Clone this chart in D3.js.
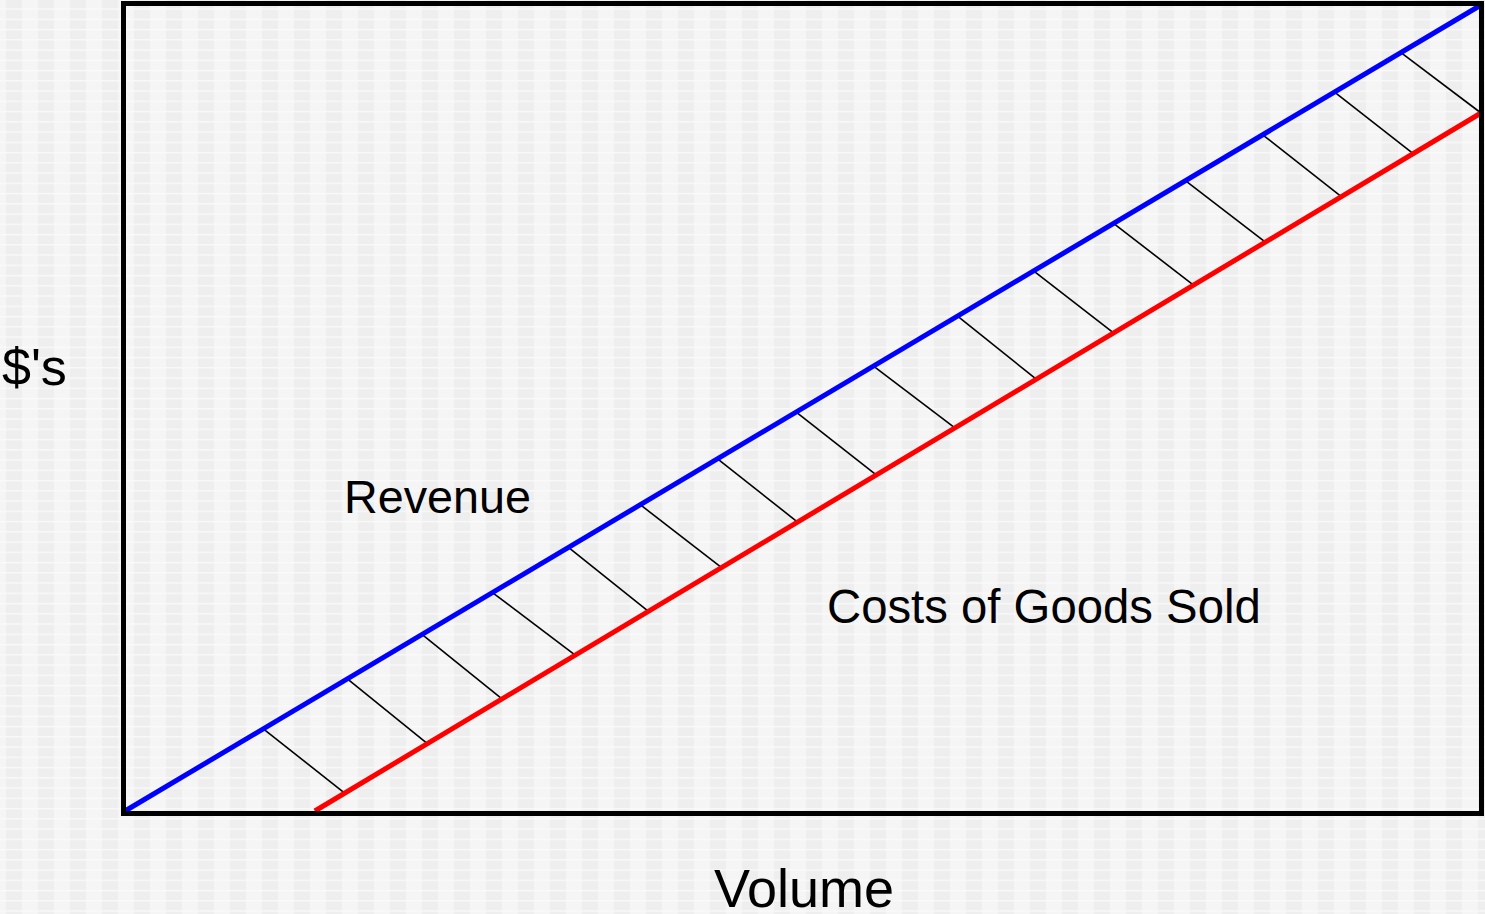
<!DOCTYPE html>
<html>
<head>
<meta charset="utf-8">
<script src="https://cdn.jsdelivr.net/npm/d3@7"></script>
<style>
  html, body { margin: 0; padding: 0; background: #f4f4f4; }
  svg { display: block; }
  text { font-family: "Liberation Sans", Arial, sans-serif; fill: #000; }
</style>
</head>
<body>
<div id="app"></div>
<script>
// revenue and cost of goods sold lines (volume vs $)
const revenueVolume = [0, 100];
const revenueDollars = [0, 100];
const costVolume = [14, 100];
const costDollars = [0, 86.6];

// hatch lines: start volume on revenue line, end volume on cost line
const hatchFrom = [10.2, 16.4, 21.9, 27.1, 32.7, 38.0, 43.7, 49.5, 55.2, 61.4, 67.0, 72.9, 78.2, 83.9, 89.2, 94.1];
const hatchTo = [16.2, 22.3, 27.8, 33.2, 38.6, 44.0, 49.6, 55.4, 61.2, 67.2, 72.9, 78.8, 84.1, 89.7, 95.0, 100];

const labels = { y: "$'s", x: "Volume", revenue: "Revenue", cost: "Costs of Goods Sold" };

const width = 1485;
const height = 914;
const margin = { top: 5, right: 4, bottom: 103, left: 125 };

const svg = d3.select('#app').append('svg')
    .attr('width', width).attr('height', height);

// background texture: vertical stripes with faint horizontal lines
const defs = svg.append('defs');
const stripes = defs.append('pattern').attr('id', 'stripes')
    .attr('patternUnits', 'userSpaceOnUse')
    .attr('x', 6).attr('y', 0).attr('width', 32).attr('height', 10.25);
stripes.append('rect').attr('width', 32).attr('height', 10.25).attr('fill', '#eeeeee');
stripes.append('rect').attr('x', 16).attr('width', 16).attr('height', 10.25).attr('fill', '#f5f5f5');
stripes.append('rect').attr('y', 8.5).attr('width', 32).attr('height', 1.2).attr('fill', '#fbfbfb');

svg.append('rect').attr('width', width).attr('height', height).attr('fill', 'url(#stripes)');

const x = d3.scaleLinear().domain([0, 100]).range([margin.left, width - margin.right]);
const y = d3.scaleLinear().domain([0, 100]).range([height - margin.bottom, margin.top]);

const line = d3.line().x(d => x(d[0])).y(d => y(d[1]));

const costY = v => costDollars[0] + (v - costVolume[0]) * (costDollars[1] - costDollars[0]) / (costVolume[1] - costVolume[0]);
const revY = v => revenueDollars[0] + (v - revenueVolume[0]) * (revenueDollars[1] - revenueDollars[0]) / (revenueVolume[1] - revenueVolume[0]);

// hatching between the two lines
svg.append('g').selectAll('line')
    .data(d3.zip(hatchFrom, hatchTo))
    .join('line')
    .attr('x1', d => x(d[0])).attr('y1', d => y(revY(d[0])))
    .attr('x2', d => x(d[1])).attr('y2', d => y(costY(d[1])))
    .attr('stroke', '#000').attr('stroke-width', 1.6);

svg.append('path')
    .datum(d3.zip(costVolume, costDollars))
    .attr('fill', 'none').attr('stroke', '#ff0000').attr('stroke-width', 5)
    .attr('d', line);

svg.append('path')
    .datum(d3.zip(revenueVolume, revenueDollars))
    .attr('fill', 'none').attr('stroke', '#0000ff').attr('stroke-width', 5)
    .attr('d', line);

// frame
svg.append('rect')
    .attr('x', 123.5).attr('y', 3.5).attr('width', 1358).attr('height', 810)
    .attr('fill', 'none').attr('stroke', '#000').attr('stroke-width', 5);

svg.append('text').attr('x', 2).attr('y', 385).attr('font-size', 52).text(labels.y);
svg.append('text').attr('x', 804).attr('y', 907).attr('text-anchor', 'middle').attr('font-size', 54).text(labels.x);
svg.append('text').attr('x', 344).attr('y', 513).attr('font-size', 46.7).text(labels.revenue);
svg.append('text').attr('x', 827).attr('y', 623).attr('font-size', 47.3).text(labels.cost);
</script>
</body>
</html>
